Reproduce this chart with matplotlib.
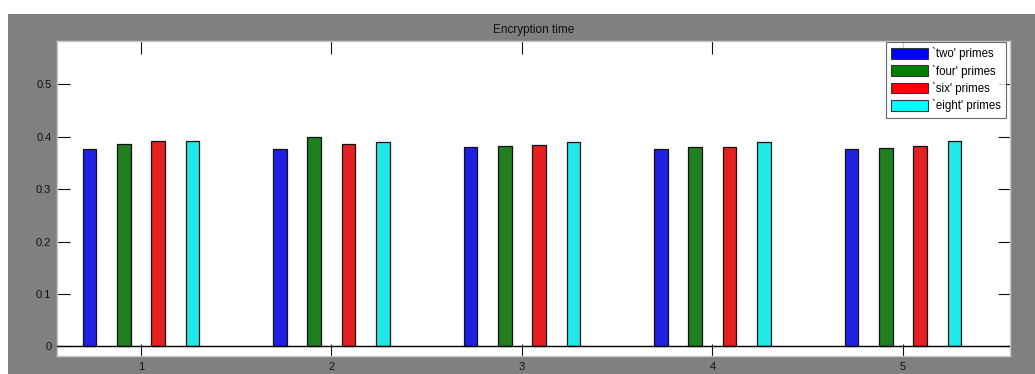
import matplotlib
matplotlib.use("Agg")
import matplotlib.pyplot as plt
from matplotlib.patches import Rectangle
import numpy as np

plt.rcParams['font.family'] = ['Liberation Sans', 'DejaVu Sans']

groups = [1, 2, 3, 4, 5]
series_names = ["`two' primes", "`four' primes", "`six' primes", "`eight' primes"]
two_primes = [0.376, 0.376, 0.380, 0.377, 0.376]
four_primes = [0.386, 0.399, 0.383, 0.380, 0.379]
six_primes = [0.392, 0.386, 0.385, 0.381, 0.382]
eight_primes = [0.392, 0.390, 0.390, 0.390, 0.392]
y_ticks = [0, 0.1, 0.2, 0.3, 0.4, 0.5]

series = [two_primes, four_primes, six_primes, eight_primes]
bar_colors = ['#2020e4', '#207f20', '#e42020', '#20e8e8']
legend_colors = ['#0000ff', '#007f00', '#ff0000', '#00ffff']

W, H = 1035, 374
fig = plt.figure(figsize=(W / 100, H / 100), dpi=100, facecolor='white')

# grey window background
fig.patches.append(Rectangle((8 / W, 0), 1 - 8 / W, 1 - 14 / H,
                             transform=fig.transFigure, facecolor='#808080',
                             edgecolor='none', zorder=-10))

ax = fig.add_axes([57 / W, (H - 356) / H, (1010 - 57) / W, (356 - 41) / H])
ax.set_facecolor('white')

offsets = [-0.27, -0.09, 0.09, 0.27]
width = 0.072
x = np.array(groups, dtype=float)
for vals, off, col in zip(series, offsets, bar_colors):
    ax.bar(x + off, vals, width=width, color=col, edgecolor='#111111',
           linewidth=0.9, zorder=3)

ax.axhline(0, color='black', linewidth=1.0, zorder=4)

ax.set_xlim(0.559, 5.562)
ax.set_ylim(-0.0185, 0.583)
ax.set_xticks(groups)
ax.set_xticklabels([str(g) for g in groups])
ax.set_yticks(y_ticks)
ax.set_yticklabels(['0', '0.1', '0.2', '0.3', '0.4', '0.5'])
ax.tick_params(direction='in', length=9, width=0.8, top=True, right=True,
               labelsize=8, colors='#111111', pad=4)
for s in ax.spines.values():
    s.set_color('#c8c8c8')
    s.set_linewidth(1.0)

ax.set_title('Encryption time', fontsize=8.5, color='#111111', pad=6)

handles = [Rectangle((0, 0), 1, 1, facecolor=c, edgecolor='#333333', linewidth=0.8)
           for c in legend_colors]
leg = ax.legend(handles, series_names, loc='upper right',
                bbox_to_anchor=(1 - 4 / 953, 1 - 1 / 315), fontsize=8.3,
                frameon=True, fancybox=False, shadow=False,
                handlelength=3.2, handleheight=1.05,
                handletextpad=0.35, labelspacing=0.38, borderpad=0.45,
                borderaxespad=0.0)
leg.get_frame().set_edgecolor('#444444')
leg.get_frame().set_linewidth(0.8)

fig.savefig('out.png', dpi=100, facecolor='white')
